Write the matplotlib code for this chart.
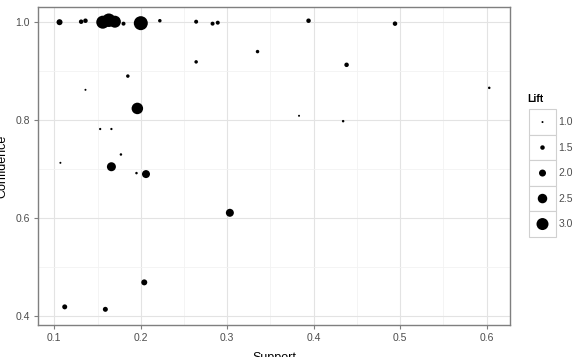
import matplotlib
matplotlib.use("Agg")
import matplotlib.pyplot as plt
from matplotlib.patches import Rectangle
import numpy as np

plt.rcParams['font.family'] = ['Liberation Sans', 'DejaVu Sans']

support = [0.106, 0.131, 0.136, 0.156, 0.163, 0.170, 0.180, 0.200, 0.222, 0.264,
           0.283, 0.289, 0.394, 0.494, 0.335, 0.264, 0.185, 0.136, 0.196, 0.438,
           0.603, 0.383, 0.434, 0.153, 0.166, 0.177, 0.107, 0.166, 0.195, 0.206,
           0.303, 0.204, 0.112, 0.159]
confidence = [1.000, 1.001, 1.003, 1.000, 1.004, 1.001, 0.997, 0.998, 1.003, 1.001,
              0.997, 0.999, 1.003, 0.997, 0.940, 0.919, 0.890, 0.862, 0.824, 0.913,
              0.866, 0.809, 0.798, 0.782, 0.782, 0.730, 0.713, 0.705, 0.692, 0.690,
              0.611, 0.469, 0.419, 0.414]
lift = [1.8, 1.5, 1.5, 3.2, 3.3, 3.0, 1.4, 3.4, 1.3, 1.4,
        1.4, 1.4, 1.5, 1.5, 1.3, 1.3, 1.3, 1.0, 2.9, 1.5,
        1.1, 1.0, 1.1, 1.05, 1.05, 1.1, 1.0, 2.4, 1.1, 2.2,
        2.2, 1.8, 1.6, 1.6]

legend_lifts = [1.0, 1.5, 2.0, 2.5, 3.0]
legend_labels = ["1.0", "1.5", "2.0", "2.5", "3.0"]
x_ticks = [0.1, 0.2, 0.3, 0.4, 0.5, 0.6]
y_ticks = [0.4, 0.6, 0.8, 1.0]

DPI = 100
W, H = 575, 357

def size_pts2(l):
    d_px = 2.0 + 5.0 * (np.asarray(l) - 1.0)
    d_pt = d_px * 72.0 / DPI
    return d_pt ** 2

fig = plt.figure(figsize=(W / DPI, H / DPI), dpi=DPI)
ax = fig.add_axes([38 / W, 1 - 325 / H, (510 - 38) / W, (325 - 7) / H])

ax.set_xlim(0.0811, 0.627)
ax.set_ylim(0.382, 1.031)

ax.set_xticks(x_ticks)
ax.set_xticklabels([f"{v:.1f}" for v in x_ticks])
ax.set_yticks(y_ticks)
ax.set_yticklabels([f"{v:.1f}" for v in y_ticks])
ax.set_xticks([0.15, 0.25, 0.35, 0.45, 0.55], minor=True)
ax.set_yticks([0.5, 0.7, 0.9], minor=True)

ax.grid(True, which='major', color='#e3e3e3', linewidth=0.8, zorder=0)
ax.grid(True, which='minor', color='#f2f2f2', linewidth=0.6, zorder=0)
ax.set_axisbelow(True)
for sp in ax.spines.values():
    sp.set_color('#7f7f7f')
    sp.set_linewidth(1.0)
ax.tick_params(axis='both', which='major', length=3, width=0.8, color='#7f7f7f',
               labelsize=7.5, labelcolor='#4d4d4d', pad=3)
ax.tick_params(axis='both', which='minor', length=0)

ax.scatter(support, confidence, s=size_pts2(lift), c='black', edgecolors='none', zorder=3)

ax.set_xlabel("Support", fontsize=9, color='black', labelpad=6)
ax.set_ylabel("Confidence", fontsize=9, color='black', labelpad=5)

# legend drawn manually
fig.text(527 / W, 1 - 99 / H, "Lift", fontsize=7.5, fontweight='bold', va='center', ha='left')
lax = fig.add_axes([0, 0, 1, 1], facecolor='none')
lax.set_xlim(0, W)
lax.set_ylim(H, 0)
lax.axis('off')
row_h = 25.5
top = 109.3
for i, (lv, lab) in enumerate(zip(legend_lifts, legend_labels)):
    y0 = top + i * row_h
    lax.add_patch(Rectangle((529.3, y0), 26.4, row_h, facecolor='white',
                            edgecolor='#d0d0d0', linewidth=0.8))
    lax.scatter([542.5], [y0 + row_h / 2], s=size_pts2(lv), c='black', edgecolors='none', zorder=3)
    lax.text(558.5, y0 + row_h / 2, lab, fontsize=7.5, color='#4d4d4d', va='center', ha='left')

fig.savefig("out.png", dpi=DPI)
